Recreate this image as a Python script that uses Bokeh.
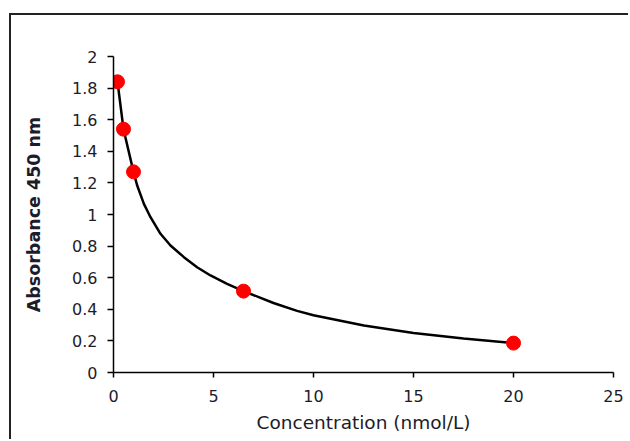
from bokeh.plotting import figure
from bokeh.models import Range1d, FixedTicker
from bokeh.embed import file_html
from bokeh.resources import INLINE

# Standard points
conc = [0.2, 0.5, 1.0, 6.5, 20.0]
absorb = [1.84, 1.54, 1.27, 0.515, 0.186]

# Fitted curve
curve_x = [0.2, 0.5, 1.0, 1.18, 1.52, 1.85, 2.35, 2.85, 3.52, 4.18, 4.85, 5.68,
           6.5, 8.0, 9.18, 10.0, 12.52, 15.0, 17.5, 20.0]
curve_y = [1.84, 1.54, 1.27, 1.185, 1.067, 0.983, 0.878, 0.804, 0.73, 0.666, 0.614, 0.561,
           0.515, 0.44, 0.39, 0.362, 0.297, 0.25, 0.215, 0.186]

x_ticks = [0, 5, 10, 15, 20, 25]
y_ticks = [0, 0.2, 0.4, 0.6, 0.8, 1.0, 1.2, 1.4, 1.6, 1.8, 2.0]
y_tick_labels = ["0", "0.2", "0.4", "0.6", "0.8", "1", "1.2", "1.4", "1.6", "1.8", "2"]

p = figure(width=619, height=426, x_range=Range1d(0, 25), y_range=Range1d(0, 2),
           output_backend="svg", toolbar_location=None,
           min_border_left=102, min_border_right=17, min_border_top=41, min_border_bottom=69)
p.outline_line_color = None
p.grid.visible = False
p.background_fill_color = "white"
p.border_fill_color = "white"
p.styles = {"border-left": "2px solid #222", "border-top": "2px solid #222",
            "margin-top": "13px", "margin-left": "9px"}

text_color = "#1c1c2a"
for ax in (p.xaxis[0], p.yaxis[0]):
    ax.axis_line_color = "black"
    ax.axis_line_width = 1.5
    ax.major_tick_line_color = "black"
    ax.major_tick_line_width = 1.5
    ax.major_tick_in = 0
    ax.minor_tick_line_color = None
    ax.major_label_text_font = "DejaVu Sans"
    ax.major_label_text_font_size = "16px"
    ax.major_label_text_color = text_color
    ax.axis_label_text_color = text_color
    ax.axis_label_text_font = "DejaVu Sans"

p.xaxis.ticker = FixedTicker(ticks=x_ticks)
p.yaxis.ticker = FixedTicker(ticks=y_ticks)
p.yaxis.major_label_overrides = {t: l for t, l in zip(y_ticks, y_tick_labels)}
p.xaxis.major_tick_out = 5
p.yaxis.major_tick_out = 6
p.xaxis.major_label_standoff = 12
p.yaxis.major_label_standoff = 10

p.xaxis.axis_label = "Concentration (nmol/L)"
p.xaxis.axis_label_text_font_size = "18.5px"
p.xaxis.axis_label_text_font_style = "normal"
p.xaxis.axis_label_standoff = 7

p.yaxis.axis_label = "Absorbance 450 nm"
p.yaxis.axis_label_text_font_size = "17.5px"
p.yaxis.axis_label_text_font_style = "bold"
p.yaxis.axis_label_standoff = 25

p.line(curve_x, curve_y, line_color="black", line_width=2.5)
p.scatter(conc, absorb, size=14, fill_color="#ff0000", line_color="#ff0000")

open("out.html", "w").write(file_html(p, INLINE))
